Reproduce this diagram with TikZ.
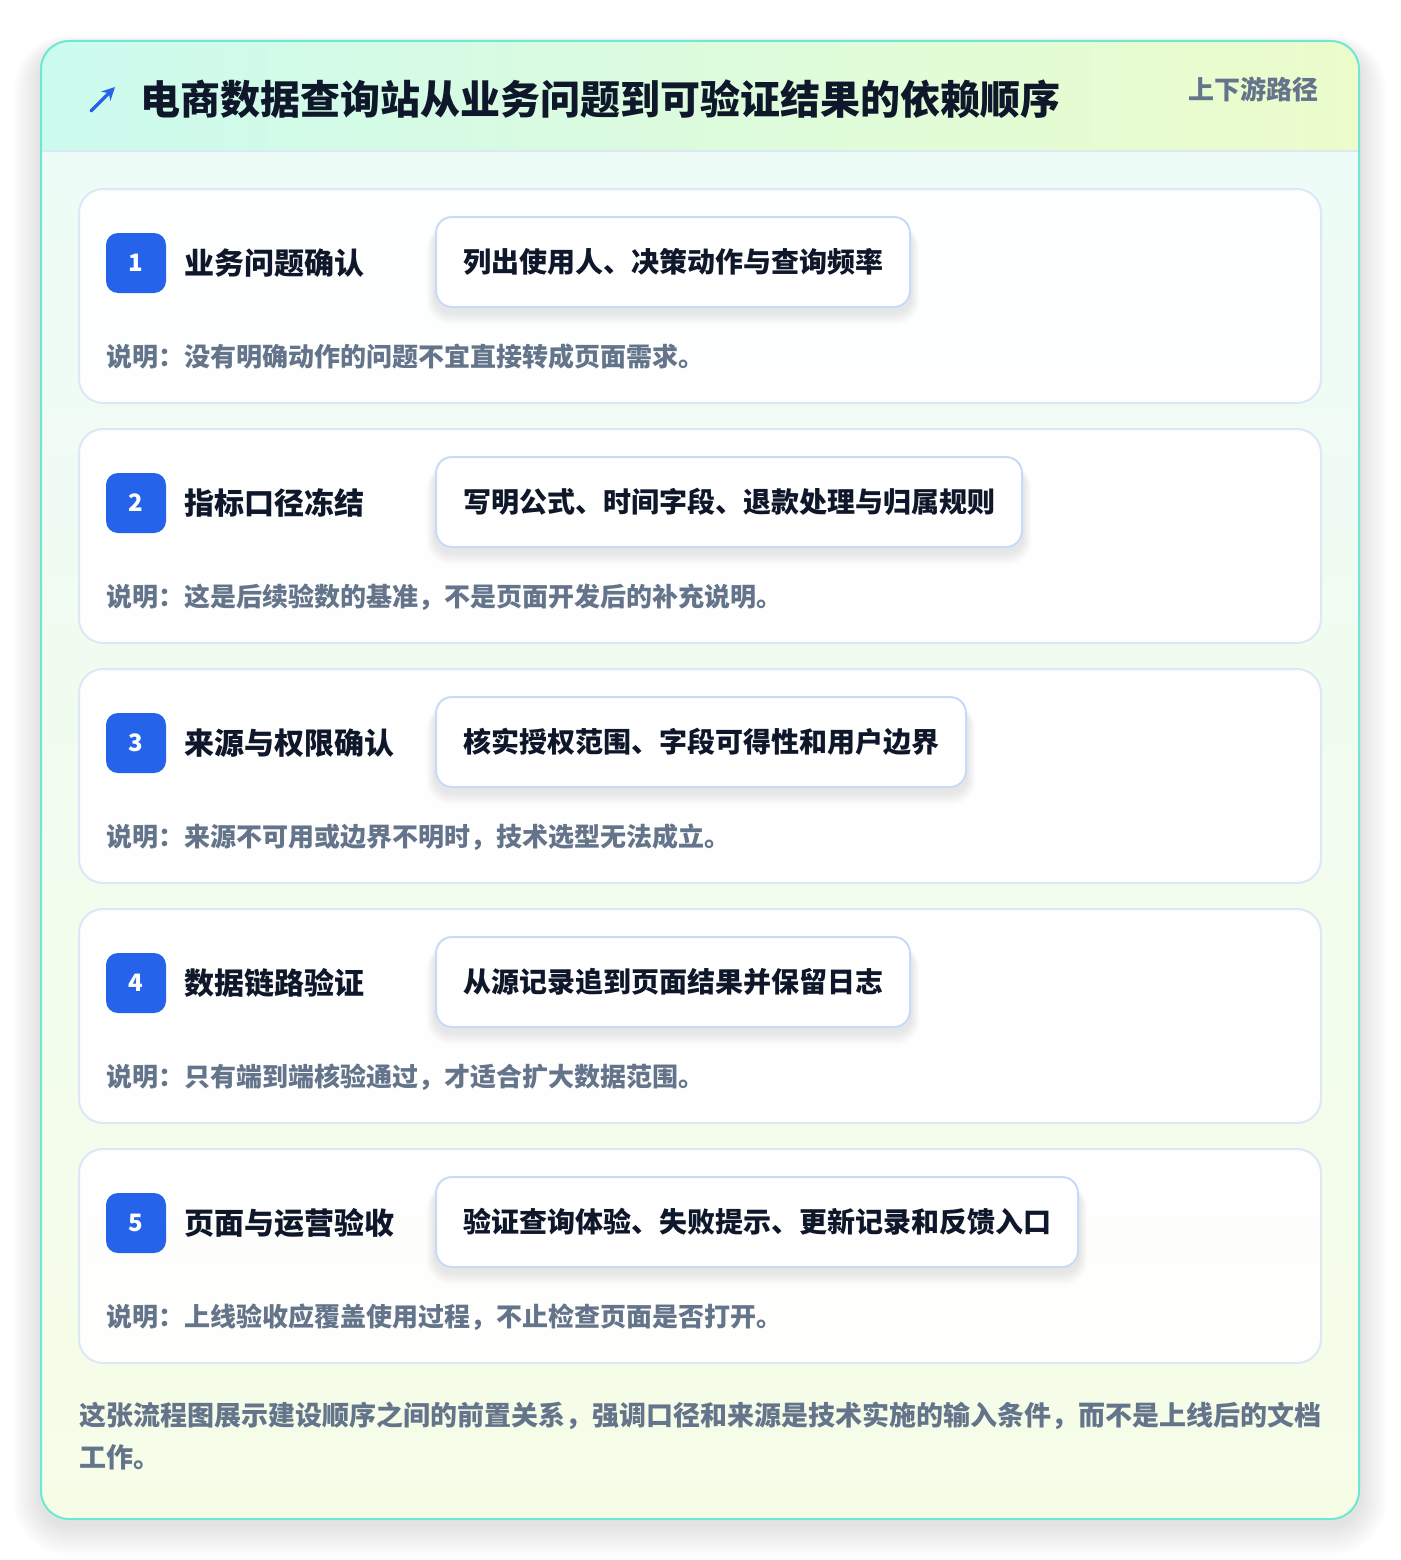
\documentclass[tikz,border=0pt]{standalone}
\usepackage{fontspec}
\setmainfont{Noto Sans CJK SC}
\usetikzlibrary{calc,arrows.meta}
\definecolor{hdrL}{HTML}{CCFBEF}
\definecolor{hdrR}{HTML}{ECFCCB}
\definecolor{bodyT}{HTML}{EEFCF7}
\definecolor{bodyB}{HTML}{F6FDE7}
\definecolor{outline}{HTML}{6EE7D3}
\definecolor{cardline}{HTML}{DCE8F6}
\definecolor{pillline}{HTML}{C6DBF6}
\definecolor{accent}{HTML}{2563EB}
\definecolor{ink}{HTML}{0F172A}
\definecolor{muted}{HTML}{64748B}
\pgfdeclarelayer{bg}
\pgfdeclarelayer{cardl}
\pgfdeclarelayer{pshad}
\pgfsetlayers{bg,cardl,pshad,main}
\tikzset{
  stepcard/.style={draw=cardline, line width=2pt, fill=white, fill opacity=0.9, rounded corners=24pt, minimum width=1242pt, minimum height=214pt, inner sep=0pt},
  badge/.style={fill=accent, rounded corners=12pt, minimum size=60pt, inner sep=0pt, text=white, font=\fontsize{24}{28}\selectfont\bfseries},
  steptitle/.style={anchor=west, inner sep=0pt, text=ink, font=\fontsize{30}{36}\selectfont\bfseries},
  pill/.style={anchor=west, draw=pillline, line width=2pt, fill=white, rounded corners=16pt, minimum height=90pt, inner xsep=27pt, inner ysep=0pt, text=ink, font=\fontsize{28}{34}\selectfont\bfseries},
  note/.style={anchor=west, inner sep=0pt, text=muted, font=\fontsize{26}{32}\selectfont\bfseries},
  headtitle/.style={anchor=west, inner sep=0pt, text=ink, font=\fontsize{40}{48}\selectfont\bfseries},
  tag/.style={anchor=west, inner sep=0pt, text=muted, font=\fontsize{26}{32}\selectfont\bfseries},
  foot/.style={anchor=north west, inner sep=0pt, align=left, text=muted, font=\fontsize{27}{42}\selectfont\bfseries},
}
\begin{document}
\begin{tikzpicture}[x=1pt,y=-1pt]
\useasboundingbox (0,0) rectangle (1400,1560);
\begin{pgfonlayer}{bg}
\fill[white] (0,0) rectangle (1400,1560);
\foreach \k in {1,...,14}
  \fill[black, opacity=0.006, rounded corners=28+2*\k] (41-2*\k, 49-\k) rectangle (1359+2*\k, 1525+2.2*\k);
\begin{scope}
  \clip[rounded corners=28pt] (41,41) rectangle (1359,1519);
  \shade[left color=hdrL, right color=hdrR] (41,41) rectangle (1359,151);
  \shade[top color=bodyT, bottom color=bodyB] (41,151) rectangle (1359,1519);
  \draw[cardline, line width=2pt] (41,151) -- (1359,151);
\end{scope}
\draw[outline, line width=2pt, rounded corners=28pt] (41,41) rectangle (1359,1519);
\end{pgfonlayer}
% header
\coordinate (iconA) at (91,111);
\coordinate (iconB) at (115,87);
\draw[accent, line width=3.5pt, line cap=round, -{Stealth[length=13pt,width=13pt]}] (iconA) -- (iconB);
\node[headtitle] (title) at (140,99) {电商数据查询站从业务问题到可验证结果的依赖顺序};
\node[tag] (tag) at (1188,89) {上下游路径};
% steps
\foreach \i/\t/\p/\n in {
 1/业务问题确认/列出使用人、决策动作与查询频率/说明：没有明确动作的问题不宜直接转成页面需求。,
 2/指标口径冻结/写明公式、时间字段、退款处理与归属规则/说明：这是后续验数的基准，不是页面开发后的补充说明。,
 3/来源与权限确认/核实授权范围、字段可得性和用户边界/说明：来源不可用或边界不明时，技术选型无法成立。,
 4/数据链路验证/从源记录追到页面结果并保留日志/说明：只有端到端核验通过，才适合扩大数据范围。,
 5/页面与运营验收/验证查询体验、失败提示、更新记录和反馈入口/说明：上线验收应覆盖使用过程，不止检查页面是否打开。}{
  \pgfmathsetmacro\top{189+240*(\i-1)}
  \begin{pgfonlayer}{cardl}
    \node[stepcard] (card\i) at (700,\top+107) {};
  \end{pgfonlayer}
  \node[badge] (badge\i) at (136,\top+74) {\i};
  \node[steptitle] (stitle\i) at (184,\top+74) {\t};
  \node[pill] (pill\i) at (435,\top+73) {\p};
  \begin{pgfonlayer}{pshad}
    \foreach \k in {1,...,8}
      \fill[black, opacity=0.012, rounded corners=16+\k] ($(pill\i.north west)+(-\k,12-0.5*\k)$) rectangle ($(pill\i.south east)+(\k,4+1.6*\k)$);
  \end{pgfonlayer}
  \node[note] (note\i) at (106,\top+168) {\n};
}
\node[foot] (footer) at (79,1402) {这张流程图展示建设顺序之间的前置关系，强调口径和来源是技术实施的输入条件，而不是上线后的文档\\工作。};
\end{tikzpicture}
\end{document}
